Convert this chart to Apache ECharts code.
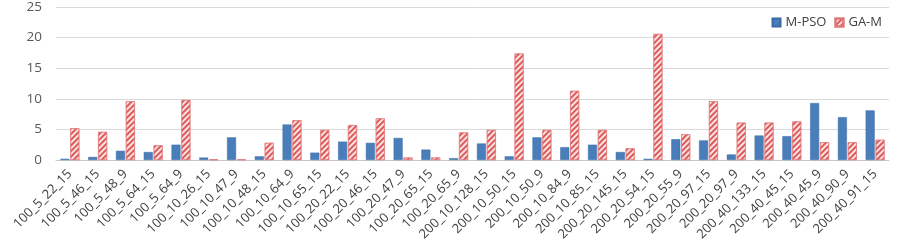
<!DOCTYPE html>
<html>
<head>
<meta charset="utf-8">
<script src="https://cdn.jsdelivr.net/npm/echarts@6/dist/echarts.min.js"></script>
<style>html,body{margin:0;padding:0;background:#fff}#c{width:909px;height:247px}</style>
</head>
<body>
<div id="c"></div>
<script>
var categories = ["100_5_22_15","100_5_46_15","100_5_48_9","100_5_64_15","100_5_64_9","100_10_26_15","100_10_47_9","100_10_48_15","100_10_64_9","100_10_65_15","100_20_22_15","100_20_46_15","100_20_47_9","100_20_65_15","100_20_65_9","200_10_128_15","200_10_50_15","200_10_50_9","200_10_84_9","200_10_85_15","200_20_145_15","200_20_54_15","200_20_55_9","200_20_97_15","200_20_97_9","200_40_133_15","200_40_45_15","200_40_45_9","200_40_90_9","200_40_91_15"];
var mpso = [0.2,0.5,1.5,1.3,2.5,0.4,3.7,0.6,5.8,1.2,3.0,2.8,3.6,1.7,0.3,2.7,0.6,3.7,2.1,2.5,1.3,0.2,3.4,3.2,0.9,4.0,3.9,9.3,7.0,8.1];
var gam = [5.2,4.6,9.6,2.4,9.8,0.1,0.1,2.8,6.5,4.9,5.7,6.8,0.4,0.4,4.5,4.9,17.4,4.9,11.3,4.9,1.9,20.6,4.2,9.6,6.1,6.1,6.3,2.9,2.9,3.3];
var yTicks = [0,5,10,15,20,25];

var chart = echarts.init(document.getElementById('c'));
var font = '"Open Sans", "Liberation Sans", sans-serif';
chart.setOption({
  animation: false,
  backgroundColor: '#ffffff',
  grid: { left: 56, right: 20, top: 7, bottom: 87 },
  legend: {
    right: 22, top: 11,
    itemWidth: 8, itemHeight: 8, itemGap: 8,
    icon: 'rect',
    textStyle: { fontFamily: font, fontSize: 13, color: '#404040' },
    data: ['M-PSO', 'GA-M']
  },
  xAxis: {
    type: 'category',
    data: categories,
    axisLine: { show: true, lineStyle: { color: '#c8c8c8', width: 1 } },
    axisTick: { show: false },
    axisLabel: { rotate: 45, interval: 0, margin: 12, fontFamily: font, fontSize: 13, color: '#404040' }
  },
  yAxis: {
    type: 'value',
    min: yTicks[0], max: yTicks[yTicks.length - 1], interval: 5,
    axisLine: { show: false },
    axisTick: { show: false },
    splitLine: { lineStyle: { color: '#d9d9d9', width: 1 } },
    axisLabel: { margin: 14, fontFamily: font, fontSize: 13.5, color: '#595959' }
  },
  series: [
    {
      name: 'M-PSO', type: 'bar', data: mpso,
      barWidth: 9, barGap: '10%',
      itemStyle: { color: '#4a7ebb', borderColor: '#3a6aa3', borderWidth: 0.5 }
    },
    {
      name: 'GA-M', type: 'bar', data: gam,
      barWidth: 9,
      itemStyle: {
        color: '#fbe3e3', borderColor: '#e07a7a', borderWidth: 0.6,
        decal: { symbol: 'rect', symbolSize: 1, dashArrayX: [1, 0], dashArrayY: [1.5, 2], rotation: -Math.PI / 4, color: '#dd5a5a' }
      }
    }
  ]
});
</script>
</body>
</html>
